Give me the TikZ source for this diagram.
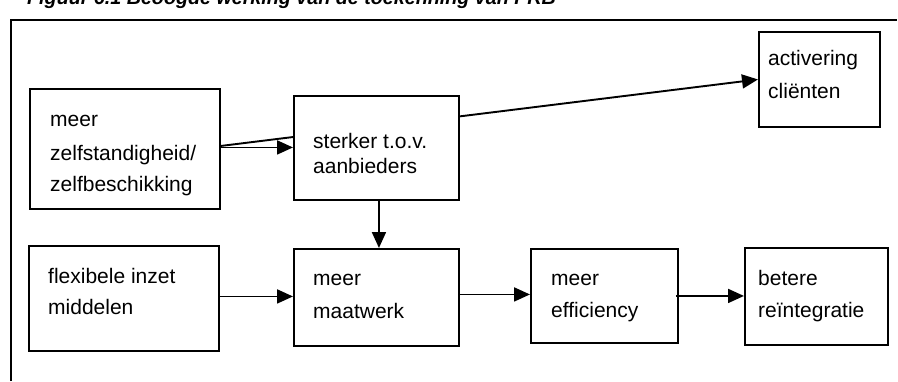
\documentclass[tikz,border=0pt]{standalone}
\usepackage{fontspec}
\setmainfont{Liberation Sans}
\usetikzlibrary{arrows.meta}
\begin{document}
\begin{tikzpicture}[x=1pt,y=-1pt,
  box/.style={draw=black,line width=1.9pt,fill=white,inner sep=0pt,anchor=north west},
  lbl/.style={anchor=base west,inner sep=0pt,font=\fontsize{21}{25}\selectfont},
  conn/.style={line width=1.9pt,-{Triangle[length=16pt,width=14pt]}}]
\useasboundingbox (0,0) rectangle (898,381);
% caption, partly above the page edge
\node[anchor=base west,inner sep=0pt,font=\fontsize{19.7}{24}\selectfont\bfseries\itshape] (title) at (27,4)
  {Figuur 6.1 Beoogde werking van de toekenning van PRB};
% open frame
\coordinate (fbl) at (11,381);
\coordinate (ftl) at (11,20);
\coordinate (ftr) at (897,20);
\draw[line width=2.6pt] (fbl) -- (ftl) -- (ftr);
% boxes
\node[box,minimum width=190pt,minimum height=120pt] (A) at (29,88) {};
\node[box,minimum width=121pt,minimum height=95pt] (C) at (758,31) {};
\draw[conn] ([yshift=3pt]A.east) -- (C.west);
\node[box,minimum width=165pt,minimum height=104pt] (B) at (293,95) {};
\node[box,minimum width=190pt,minimum height=105pt] (D) at (28,245) {};
\node[box,minimum width=165pt,minimum height=97pt] (E) at (293,248) {};
\node[box,minimum width=147pt,minimum height=94pt] (F) at (530,248) {};
\node[box,minimum width=143pt,minimum height=97pt] (G) at (744,247) {};
% labels
\node[lbl] (a1) at (50,126) {meer};
\node[lbl] (a2) at (50,160) {zelfstandigheid/};
\node[lbl] (a3) at (50,191) {zelfbeschikking};
\node[lbl] (b1) at (313,148) {sterker t.o.v.};
\node[lbl] (b2) at (313,173) {aanbieders};
\node[lbl] (c1) at (768,65) {activering};
\node[lbl] (c2) at (768,98) {cliënten};
\node[lbl] (d1) at (48,283) {flexibele inzet};
\node[lbl] (d2) at (48,314) {middelen};
\node[lbl] (e1) at (313,285) {meer};
\node[lbl] (e2) at (313,318) {maatwerk};
\node[lbl] (f1) at (551,285) {meer};
\node[lbl] (f2) at (551,317) {efficiency};
\node[lbl] (g1) at (758,285) {betere};
\node[lbl] (g2) at (758,317) {reïntegratie};
% connectors
\draw[conn] ([yshift=1.5pt]A.east) -- ([yshift=1.5pt]A.east -| B.west);
\draw[conn] ([xshift=2.5pt]B.south) -- ([xshift=2.5pt]B.south |- E.north);
\draw[conn] ([yshift=2pt]D.east) -- ([yshift=2pt]D.east -| E.west);
\draw[conn] ([yshift=3pt]E.east) -- ([yshift=3pt]E.east -| F.west);
\draw[conn] ([xshift=-3pt]F.east) -- (F.east -| G.west);
\end{tikzpicture}
\end{document}
